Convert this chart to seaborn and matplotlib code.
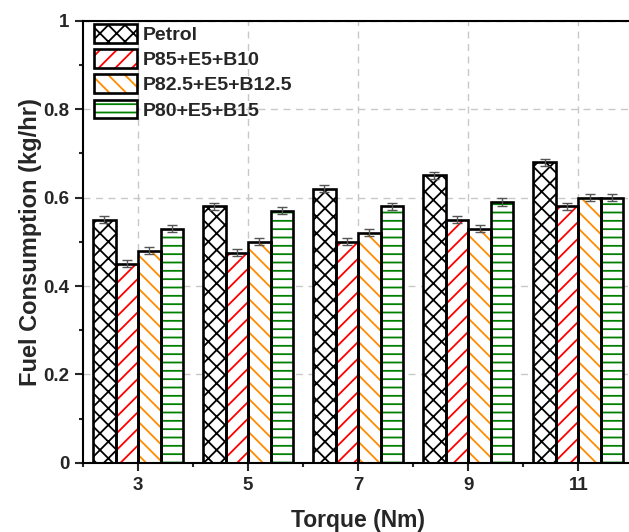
import pandas as pd
import matplotlib.pyplot as plt
import matplotlib.patches as mpatches
from matplotlib.ticker import AutoMinorLocator, MultipleLocator
import seaborn as sns

# data
torque = ["3", "5", "7", "9", "11"]
fuels = ["Petrol", "P85+E5+B10", "P82.5+E5+B12.5", "P80+E5+B15"]
petrol = [0.55, 0.58, 0.62, 0.65, 0.68]
p85 = [0.45, 0.475, 0.50, 0.55, 0.58]
p825 = [0.48, 0.50, 0.52, 0.53, 0.60]
p80 = [0.53, 0.57, 0.58, 0.59, 0.60]
err = [0.008, 0.008, 0.008, 0.008]

colors = ["black", "red", "#ff8c00", "green"]
hatches = ["xx", "//", "\\\\", "--"]

sns.set_style("white")
plt.rcParams["font.family"] = ["Liberation Sans", "DejaVu Sans"]
plt.rcParams["font.weight"] = "bold"
plt.rcParams["hatch.linewidth"] = 1.3

df = pd.DataFrame({
    "Torque": torque * 4,
    "Fuel": [f for f in fuels for _ in torque],
    "FC": petrol + p85 + p825 + p80,
})

fig = plt.figure(figsize=(6.29, 5.32), dpi=100)
ax = fig.add_axes([0.132, 0.13, 0.875, 0.831])

sns.barplot(data=df, x="Torque", y="FC", hue="Fuel", hue_order=fuels,
            order=torque, width=0.82, errorbar=None, legend=False, ax=ax)

bar_conts = list(ax.containers)
handles = []
for i, cont in enumerate(bar_conts):
    for p in cont.patches:
        p.set_facecolor("white")
        p.set_edgecolor(colors[i])
        p.set_hatch(hatches[i])
        p.set_linewidth(0)
        outline = mpatches.Rectangle(p.get_xy(), p.get_width(), p.get_height(),
                                     fill=False, edgecolor="black", linewidth=1.9, zorder=3)
        ax.add_patch(outline)
    xs = [p.get_x() + p.get_width() / 2 for p in cont.patches]
    hs = [p.get_height() for p in cont.patches]
    ax.errorbar(xs, hs, yerr=err[i], fmt="none", ecolor="#555555",
                elinewidth=1, capsize=3.5, capthick=1, zorder=4)
    hp = mpatches.Patch(facecolor="white", edgecolor=colors[i], hatch=hatches[i], linewidth=0)
    ho = mpatches.Patch(fill=False, edgecolor="black", linewidth=1.9)
    handles.append((hp, ho))

ax.set_ylim(0, 1)
ax.set_xlim(-0.5, 4.5)
ax.set_yticks([0, 0.2, 0.4, 0.6, 0.8, 1.0])
ax.set_yticklabels(["0", "0.2", "0.4", "0.6", "0.8", "1"])
ax.yaxis.set_minor_locator(MultipleLocator(0.1))
ax.xaxis.set_minor_locator(AutoMinorLocator(2))

ax.grid(True, which="major", linestyle=(0, (5, 4)), color="#c8c8c8", linewidth=1)
ax.set_axisbelow(True)

ax.tick_params(which="major", direction="out", length=6, width=1.5, labelsize=13.5,
               pad=4, left=True, bottom=True)
ax.tick_params(which="minor", direction="out", length=3, width=1.5, left=True, bottom=True)
for s in ax.spines.values():
    s.set_linewidth(1.5)
    s.set_color("black")

ax.set_xlabel("Torque (Nm)", fontsize=16.5, fontweight="bold", labelpad=11)
ax.set_ylabel("Fuel Consumption (kg/hr)", fontsize=17, fontweight="bold", labelpad=0.5)

ax.legend(handles=handles, labels=fuels, loc="upper left", bbox_to_anchor=(-0.012, 1.032),
          frameon=False, handlelength=2.2, handleheight=1.1,
          labelspacing=0.27, handletextpad=0.3, borderaxespad=0.5,
          prop={"weight": "bold", "size": 14})

fig.savefig("out.png", dpi=100)
